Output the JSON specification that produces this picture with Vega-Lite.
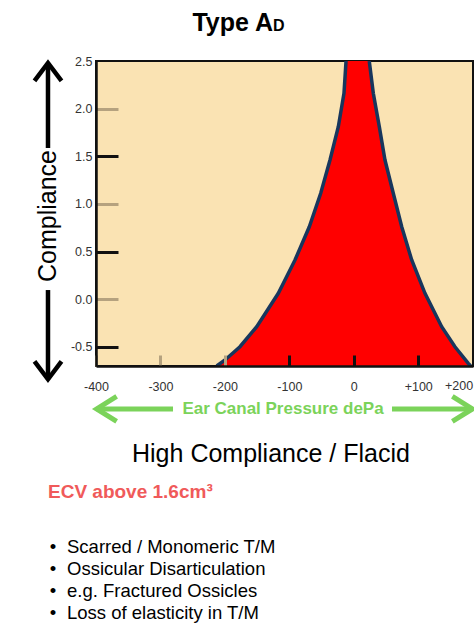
{
  "$schema": "https://vega.github.io/schema/vega-lite/v6.json",
  "width": 377,
  "height": 305,
  "autosize": {"type": "none"},
  "padding": {"left": 96, "top": 61, "right": 1, "bottom": 266},
  "background": "white",
  "config": {
    "view": {"fill": "#FAE3B3", "stroke": "#111111", "strokeWidth": 2},
    "font": "Liberation Sans"
  },
  "data": {"values": [{}]},
  "datasets": {
    "curve": [
      {"pressure": -212.7, "compliance": -0.70, "side": "left"},
      {"pressure": -199.8, "compliance": -0.637, "side": "left"},
      {"pressure": -176.6, "compliance": -0.498, "side": "left"},
      {"pressure": -150.6, "compliance": -0.288, "side": "left"},
      {"pressure": -117.1, "compliance": 0.063, "side": "left"},
      {"pressure": -91.2, "compliance": 0.412, "side": "left"},
      {"pressure": -69.0, "compliance": 0.761, "side": "left"},
      {"pressure": -51.3, "compliance": 1.112, "side": "left"},
      {"pressure": -36.9, "compliance": 1.461, "side": "left"},
      {"pressure": -24.0, "compliance": 1.811, "side": "left"},
      {"pressure": -15.2, "compliance": 2.161, "side": "left"},
      {"pressure": -12.0, "compliance": 2.5, "side": "left"},
      {"pressure": 24.0, "compliance": 2.5, "side": "right"},
      {"pressure": 30.3, "compliance": 2.161, "side": "right"},
      {"pressure": 39.6, "compliance": 1.811, "side": "right"},
      {"pressure": 48.4, "compliance": 1.461, "side": "right"},
      {"pressure": 61.3, "compliance": 1.112, "side": "right"},
      {"pressure": 74.4, "compliance": 0.761, "side": "right"},
      {"pressure": 89.9, "compliance": 0.412, "side": "right"},
      {"pressure": 110.5, "compliance": 0.063, "side": "right"},
      {"pressure": 136.4, "compliance": -0.288, "side": "right"},
      {"pressure": 157.0, "compliance": -0.498, "side": "right"},
      {"pressure": 177.7, "compliance": -0.672, "side": "right"},
      {"pressure": 181.4, "compliance": -0.70, "side": "right"}
    ]
  },
  "layer": [
    {
      "data": {"name": "curve"},
      "mark": {"type": "area", "color": "#FF0000", "clip": true},
      "encoding": {
        "x": {
          "field": "pressure", "type": "quantitative",
          "scale": {"domain": [-400, 185], "nice": false, "zero": false},
          "axis": {
            "title": null, "grid": false,
            "values": [-400, -300, -200, -100, 0, 100],
            "labelExpr": "datum.value > 0 ? '+' + datum.value : '' + datum.value",
            "labelFlush": false, "labelFontSize": 12.5, "labelColor": "#333333", "labelFont": "Liberation Sans",
            "tickSize": -11, "tickWidth": 3,
            "tickColor": {"condition": {"test": "datum.value >= -100", "value": "#111111"}, "value": "#B5A27F"},
            "labelPadding": 25,
            "domainColor": "#111111", "domainWidth": 2.5, "zindex": 1
          }
        },
        "y": {
          "field": "compliance", "type": "quantitative",
          "scale": {"domain": [-0.7, 2.5], "nice": false, "zero": false},
          "axis": {
            "title": null, "grid": false,
            "values": [-0.5, 0, 0.5, 1, 1.5, 2, 2.5],
            "labelExpr": "replace(format(datum.value, '.1f'), '\u2212', '-')",
            "labelFontSize": 12.5, "labelColor": "#333333", "labelFont": "Liberation Sans",
            "tickSize": -22, "tickWidth": 3,
            "tickColor": {"condition": [{"test": "datum.value == 2.5", "value": "rgba(0,0,0,0)"}, {"test": "datum.value == 1.5 || datum.value == 0.5 || datum.value == -0.5", "value": "#111111"}], "value": "#B5A27F"},
            "labelPadding": 26,
            "domainColor": "#111111", "domainWidth": 2.5, "zindex": 1
          }
        },
        "y2": {"datum": -0.7}
      }
    },
    {
      "data": {"name": "curve"},
      "mark": {"type": "line", "color": "#17365D", "strokeWidth": 3.5, "clip": true},
      "encoding": {
        "x": {"field": "pressure", "type": "quantitative"},
        "y": {"field": "compliance", "type": "quantitative"},
        "detail": {"field": "side"}
      }
    },
    {
      "mark": {"type": "text", "text": "Type A", "fontSize": 25, "fontWeight": "bold", "align": "right", "baseline": "alphabetic", "color": "#000000", "clip": false},
      "encoding": {"x": {"datum": -125.3}, "y": {"datum": 2.815}}
    },
    {
      "mark": {"type": "text", "text": "D", "fontSize": 16, "fontWeight": "bold", "align": "left", "baseline": "alphabetic", "color": "#000000", "clip": false},
      "encoding": {"x": {"datum": -125.3}, "y": {"datum": 2.815}}
    },
    {
      "mark": {"type": "text", "text": "Compliance", "fontSize": 25, "angle": 270, "align": "center", "baseline": "middle", "color": "#000000", "clip": false},
      "encoding": {"x": {"datum": -474.5}, "y": {"datum": 0.874}}
    },
    {
      "mark": {"type": "rule", "color": "#000000", "strokeWidth": 4.5, "clip": false},
      "encoding": {"x": {"datum": -474.5}, "y": {"datum": 1.587}, "y2": {"datum": 2.48}}
    },
    {
      "mark": {"type": "rule", "color": "#000000", "strokeWidth": 4.5, "clip": false},
      "encoding": {"x": {"datum": -474.5}, "y": {"datum": 0.097}, "y2": {"datum": -0.84}}
    },
    {
      "mark": {"type": "point", "shape": "M-1,1.33L0,0L1,1.33", "size": 729, "filled": false, "color": "#000000", "strokeWidth": 4.5, "opacity": 1, "clip": false},
      "encoding": {"x": {"datum": -474.5}, "y": {"datum": 2.48}}
    },
    {
      "mark": {"type": "point", "shape": "M-1,-1.33L0,0L1,-1.33", "size": 729, "filled": false, "color": "#000000", "strokeWidth": 4.5, "opacity": 1, "clip": false},
      "encoding": {"x": {"datum": -474.5}, "y": {"datum": -0.84}}
    },
    {
      "mark": {"type": "text", "text": "+200", "fontSize": 12.5, "align": "center", "baseline": "top", "color": "#333333", "clip": false},
      "encoding": {"x": {"datum": 163.3}, "y": {"datum": -0.847}}
    },
    {
      "mark": {"type": "rule", "color": "#7BD35A", "strokeWidth": 5, "clip": false},
      "encoding": {"x": {"datum": -399}, "x2": {"datum": -280.5}, "y": {"datum": -1.151}}
    },
    {
      "mark": {"type": "rule", "color": "#7BD35A", "strokeWidth": 5, "clip": false},
      "encoding": {"x": {"datum": 59.3}, "x2": {"datum": 184}, "y": {"datum": -1.151}}
    },
    {
      "mark": {"type": "point", "shape": "M1.6,-1L0,0L1.6,1", "size": 625, "filled": false, "color": "#7BD35A", "strokeWidth": 5, "opacity": 1, "clip": false},
      "encoding": {"x": {"datum": -399}, "y": {"datum": -1.151}}
    },
    {
      "mark": {"type": "point", "shape": "M-1.6,-1L0,0L-1.6,1", "size": 625, "filled": false, "color": "#7BD35A", "strokeWidth": 5, "opacity": 1, "clip": false},
      "encoding": {"x": {"datum": 184}, "y": {"datum": -1.151}}
    },
    {
      "mark": {"type": "text", "text": "Ear Canal Pressure dePa", "fontSize": 17, "fontWeight": "bold", "align": "center", "baseline": "middle", "color": "#7BD35A", "clip": false},
      "encoding": {"x": {"datum": -109.8}, "y": {"datum": -1.151}}
    },
    {
      "mark": {"type": "text", "text": "High Compliance / Flacid", "fontSize": 25, "align": "center", "baseline": "middle", "color": "#000000", "clip": false},
      "encoding": {"x": {"datum": -128.5}, "y": {"datum": -1.623}}
    },
    {
      "mark": {"type": "text", "text": "ECV above 1.6cm³", "fontSize": 19, "fontWeight": "bold", "align": "left", "baseline": "middle", "color": "#F05A5A", "clip": false},
      "encoding": {"x": {"datum": -474.5}, "y": {"datum": -2.022}}
    },
    {
      "mark": {"type": "text", "text": ["•", "•", "•", "•"], "fontSize": 18.5, "lineHeight": 22, "align": "center", "baseline": "alphabetic", "color": "#000000", "clip": false},
      "encoding": {"x": {"datum": -466.7}, "y": {"datum": -2.662}}
    },
    {
      "mark": {"type": "text", "text": ["Scarred / Monomeric T/M", "Ossicular Disarticulation", "e.g. Fractured Ossicles", "Loss of elasticity in T/M"], "fontSize": 18.5, "lineHeight": 22, "align": "left", "baseline": "alphabetic", "color": "#000000", "clip": false},
      "encoding": {"x": {"datum": -445}, "y": {"datum": -2.662}}
    }
  ]
}
